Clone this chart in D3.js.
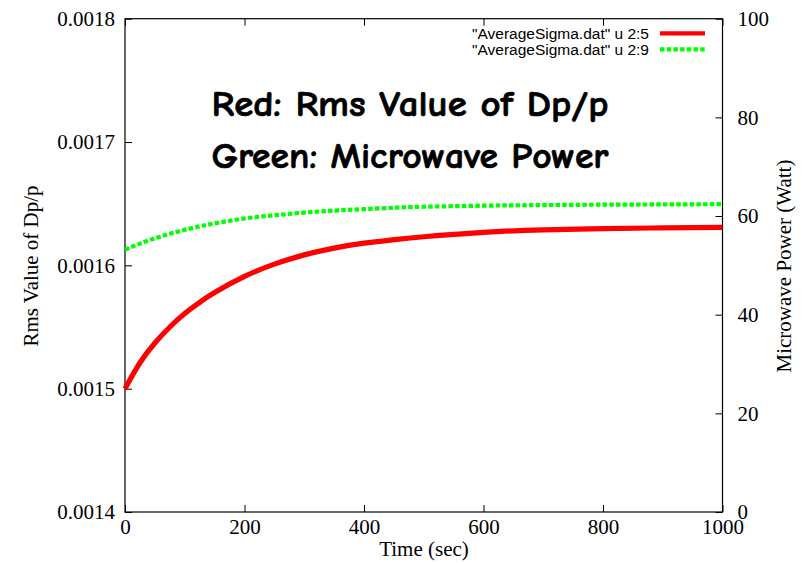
<!DOCTYPE html>
<html>
<head>
<meta charset="utf-8">
<script src="https://cdn.jsdelivr.net/npm/d3@7"></script>
<style>
  body { margin: 0; background: #fff; }
  .tick text { font-family: "Liberation Serif", "Times New Roman", serif; font-size: 21px; fill: #000; }
  .tick line { stroke: #000; stroke-width: 1; }
  .axisTitle { font-family: "Liberation Serif", "Times New Roman", serif; font-size: 21px; fill: #000; }
  .legendText { font-family: "Liberation Sans", Arial, sans-serif; font-size: 15.5px; fill: #000; }
  .note { font-family: "Comic Sans MS", "Comic Neue", "DejaVu Sans", sans-serif; font-weight: bold; font-size: 36px; fill: #000; stroke: #000; stroke-width: 0.7px; }
</style>
</head>
<body>
<script>
(function(){

    //time samples (sec)
    var timeVals = [0, 25, 50, 75, 100, 125, 150, 200, 250, 300, 350, 400, 450, 500, 600, 700, 800, 900, 1000];
    //"AverageSigma.dat" u 2:5 -> rms value of dp/p (left axis)
    var rmsVals = [0.001500, 0.001521, 0.001537, 0.001550, 0.001561, 0.001570, 0.001578, 0.001591, 0.001601,
                   0.0016085, 0.001614, 0.001618, 0.0016208, 0.0016232, 0.0016268, 0.0016288, 0.0016298, 0.0016304, 0.0016308];
    //"AverageSigma.dat" u 2:9 -> microwave power in watt (right axis)
    var powerVals = [53.2, 54.4, 55.5, 56.4, 57.2, 57.9, 58.5, 59.5, 60.15, 60.7, 61.1, 61.4, 61.68, 61.88,
                     62.1, 62.22, 62.3, 62.35, 62.4];

    var xTicks = [0, 200, 400, 600, 800, 1000];
    var yTicks = [0.0014, 0.0015, 0.0016, 0.0017, 0.0018];
    var y2Ticks = [0, 20, 40, 60, 80, 100];
    var legendLabels = ['"AverageSigma.dat" u 2:5', '"AverageSigma.dat" u 2:9'];
    var noteLines = ["Red: Rms Value of Dp/p", "Green: Microwave Power"];

    //frame dimensions
    var width = 812,
        height = 563,
        left = 125,
        right = 722.5,
        top = 18.7,
        bottom = 512;

    var svg = d3.select("body")
        .append("svg")
        .attr("width", width)
        .attr("height", height);

    var x = d3.scaleLinear().domain([0, 1000]).range([left, right]);
    var y = d3.scaleLinear().domain([0.0014, 0.0018]).range([bottom, top]);
    var y2 = d3.scaleLinear().domain([0, 100]).range([bottom, top]);

    //axes, ticks pointing inward like gnuplot
    svg.append("g")
        .attr("transform", "translate(0," + bottom + ")")
        .call(d3.axisBottom(x).tickValues(xTicks).tickSizeInner(-7).tickSizeOuter(0).tickPadding(7)
            .tickFormat(d3.format("d")));

    svg.append("g")
        .attr("transform", "translate(0," + top + ")")
        .call(d3.axisTop(x).tickValues(xTicks).tickSizeInner(-7).tickSizeOuter(0).tickFormat(""));

    svg.append("g")
        .attr("transform", "translate(" + left + ",0)")
        .call(d3.axisLeft(y).tickValues(yTicks).tickSizeInner(-7).tickSizeOuter(0).tickPadding(10)
            .tickFormat(d3.format(".4f")));

    svg.append("g")
        .attr("transform", "translate(" + right + ",0)")
        .call(d3.axisRight(y2).tickValues(y2Ticks).tickSizeInner(-7).tickSizeOuter(0).tickPadding(15)
            .tickFormat(d3.format("d")));

    svg.selectAll(".domain").remove();

    //plot border
    svg.append("rect")
        .attr("x", left)
        .attr("y", top)
        .attr("width", right - left)
        .attr("height", bottom - top)
        .attr("fill", "none")
        .attr("stroke", "#000")
        .attr("stroke-width", 1.2);

    //curves
    var rmsLine = d3.line()
        .x(function(d, i){ return x(timeVals[i]); })
        .y(function(d){ return y(d); })
        .curve(d3.curveNatural);

    var powerLine = d3.line()
        .x(function(d, i){ return x(timeVals[i]); })
        .y(function(d){ return y2(d); })
        .curve(d3.curveNatural);

    svg.append("path")
        .datum(powerVals)
        .attr("d", powerLine)
        .attr("fill", "none")
        .attr("stroke", "#00ff00")
        .attr("stroke-width", 4.2)
        .attr("stroke-dasharray", "4.5,2.2");

    svg.append("path")
        .datum(rmsVals)
        .attr("d", rmsLine)
        .attr("fill", "none")
        .attr("stroke", "#ff0000")
        .attr("stroke-width", 5.2);

    //legend
    var legendColors = ["#ff0000", "#00ff00"];
    var legend = svg.selectAll(".legendItem")
        .data(legendLabels)
        .enter()
        .append("g")
        .attr("class", "legendItem")
        .attr("transform", function(d, i){ return "translate(0," + (33.3 + i * 16) + ")"; });

    legend.append("text")
        .attr("class", "legendText")
        .attr("x", 649)
        .attr("dy", "0.35em")
        .attr("text-anchor", "end")
        .text(function(d){ return d; });

    legend.append("line")
        .attr("x1", 660)
        .attr("x2", 705)
        .attr("stroke", function(d, i){ return legendColors[i]; })
        .attr("stroke-width", 4.2)
        .attr("stroke-dasharray", function(d, i){ return i === 1 ? "4.5,2.2" : null; });

    //annotation
    svg.selectAll(".note")
        .data(noteLines)
        .enter()
        .append("text")
        .attr("class", "note")
        .attr("x", 410)
        .attr("y", function(d, i){ return 116 + i * 52; })
        .attr("text-anchor", "middle")
        .attr("textLength", 397)
        .attr("lengthAdjust", "spacingAndGlyphs")
        .text(function(d){ return d; });

    //axis titles
    svg.append("text")
        .attr("class", "axisTitle")
        .attr("x", 424)
        .attr("y", 556)
        .attr("text-anchor", "middle")
        .text("Time (sec)");

    svg.append("text")
        .attr("class", "axisTitle")
        .attr("transform", "translate(38," + 266 + ") rotate(-90)")
        .attr("text-anchor", "middle")
        .text("Rms Value of Dp/p");

    svg.append("text")
        .attr("class", "axisTitle")
        .attr("transform", "translate(791," + 266 + ") rotate(-90)")
        .attr("text-anchor", "middle")
        .text("Microwave Power (Watt)");
})();
</script>
</body>
</html>
